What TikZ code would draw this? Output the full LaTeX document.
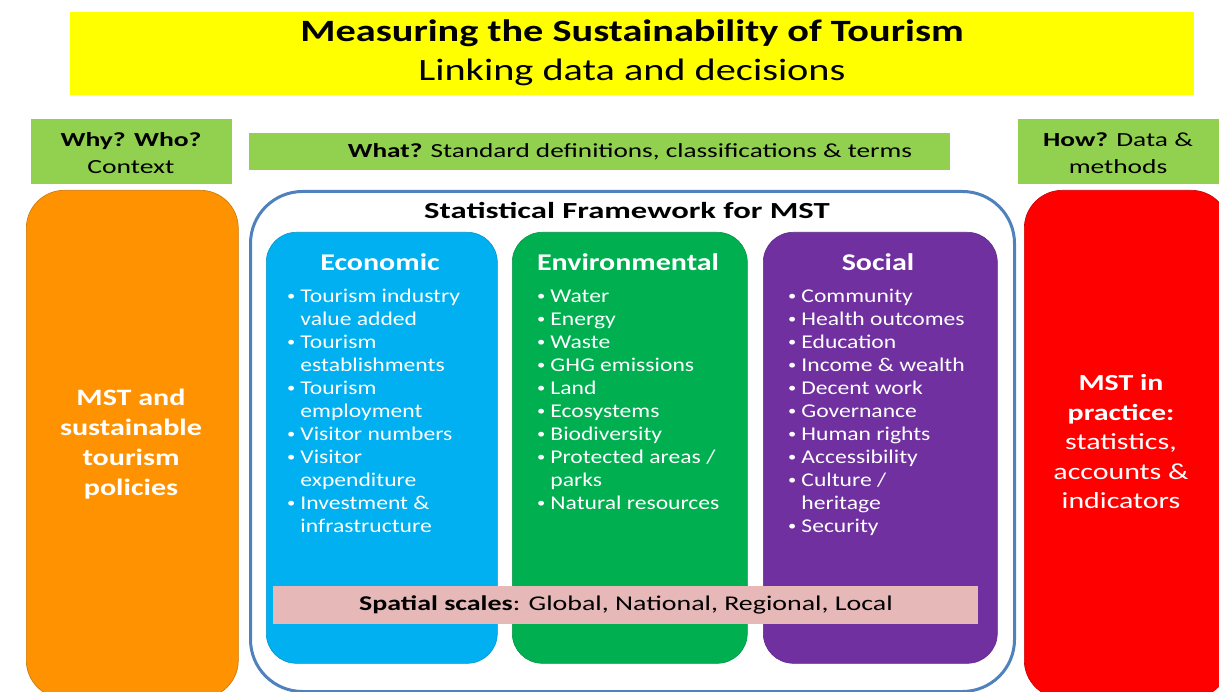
\documentclass[tikz,border=0pt]{standalone}
\usepackage{fontspec}
\setmainfont{Carlito}
\definecolor{ttlyellow}{HTML}{FFFF00}
\definecolor{lightgreen}{HTML}{92D050}
\definecolor{orangebox}{HTML}{FF9200}
\definecolor{redbox}{HTML}{FF0000}
\definecolor{econ}{HTML}{00B0F0}
\definecolor{envi}{HTML}{00B050}
\definecolor{soci}{HTML}{7030A0}
\definecolor{spat}{HTML}{E6B8B7}
\definecolor{frameblue}{HTML}{4F81BD}
\newcommand{\stretchby}[1]{\addfontfeature{FakeStretch=#1}}
\newcommand{\itemlist}[1]{{\fontsize{19.5}{23}\selectfont\stretchby{1.21}\begin{tabular}{@{}l@{\hspace{5pt}}l@{}}#1\end{tabular}}}
\newcommand{\bl}{\raisebox{1.5pt}{\scalebox{0.7}{\textbullet}}}
\tikzset{
  panel/.style={anchor=north west, inner sep=0pt, draw=none},
  greenbox/.style={panel, fill=lightgreen},
  sidebox/.style={panel, rounded corners=38pt, draw=#1!80!black, line width=0.6pt, fill=#1},
  colbox/.style={panel, rounded corners=30pt, draw=#1!85!black, line width=0.6pt, fill=#1},
  coltitle/.style={text=white, font=\bfseries\fontsize{24}{28}\selectfont\stretchby{1.25}},
  collist/.style={anchor=north west, inner sep=0pt, text=white}
}
\begin{document}
\begin{tikzpicture}[x=1pt,y=-1pt]
\useasboundingbox (0,0) rectangle (1219,692);
\clip (0,0) rectangle (1219,692);
\fill[white] (0,0) rectangle (1219,692);

% title banner
\node[panel, fill=ttlyellow, minimum width=1124pt, minimum height=83pt] (banner) at (70,12) {};
\node[font=\bfseries\fontsize{31}{36}\selectfont\stretchby{1.3}, inner sep=0pt] (title) at (632,33) {Measuring the Sustainability of Tourism};
\node[font=\fontsize{31}{36}\selectfont\stretchby{1.3}, inner sep=0pt] (subtitle) at (632,72) {Linking data and decisions};

% green header boxes
\node[greenbox, minimum width=201pt, minimum height=65pt] (why) at (31,119) {};
\node[font=\fontsize{20}{27}\selectfont\stretchby{1.38}, align=center, inner sep=0pt] (whytext) at (131,153) {\textbf{Why? Who?}\\Context};
\node[greenbox, minimum width=701pt, minimum height=37pt] (what) at (249,133) {};
\node[font=\fontsize{20}{24}\selectfont\stretchby{1.36}, inner sep=0pt] (whattext) at (630,152) {\textbf{What?} Standard definitions, classifications \& terms};
\node[greenbox, minimum width=201pt, minimum height=65pt] (how) at (1018,119) {};
\node[font=\fontsize{20}{27}\selectfont\stretchby{1.37}, align=center, inner sep=0pt] (howtext) at (1118,153) {\textbf{How?} Data \&\\methods};

% side boxes
\node[sidebox=orangebox, minimum width=212pt, minimum height=508pt] (policy) at (26,190) {};
\node[text=white, align=center, font=\bfseries\fontsize{23.5}{30}\selectfont\stretchby{1.28}, inner sep=0pt] (policytext) at (131,444) {MST and\\sustainable\\tourism\\policies};
\node[sidebox=redbox, minimum width=205pt, minimum height=508pt] (practice) at (1024,190) {};
\node[text=white, align=center, font=\fontsize{23}{29.5}\selectfont\stretchby{1.3}, inner sep=0pt] (practicetext) at (1121,442) {\textbf{MST in}\\\textbf{practice:}\\statistics,\\accounts \&\\indicators};

% framework
\node[panel, draw=frameblue, line width=3pt, rounded corners=52pt, fill=white, minimum width=764pt, minimum height=500pt] (framework) at (249,190) {};
\node[font=\bfseries\fontsize{23}{28}\selectfont\stretchby{1.42}, inner sep=0pt] (fwtitle) at (627,211) {Statistical Framework for MST};

\node[colbox=econ, minimum width=231pt, minimum height=431pt] (economic) at (266,232) {};
\node[colbox=envi, minimum width=235pt, minimum height=431pt] (environmental) at (512,232) {};
\node[colbox=soci, minimum width=234pt, minimum height=431pt] (social) at (763,232) {};

\node[coltitle] (ectitle) at (380,262) {Economic};
\node[coltitle] (entitle) at (628,262) {Environmental};
\node[coltitle] (sotitle) at (878,262) {Social};

\node[collist] (eclist) at (287,286) {\itemlist{
\bl & Tourism industry\\
    & value added\\
\bl & Tourism\\
    & establishments\\
\bl & Tourism\\
    & employment\\
\bl & Visitor numbers\\
\bl & Visitor\\
    & expenditure\\
\bl & Investment \&\\
    & infrastructure}};

\node[collist] (enlist) at (537,286) {\itemlist{
\bl & Water\\
\bl & Energy\\
\bl & Waste\\
\bl & GHG emissions\\
\bl & Land\\
\bl & Ecosystems\\
\bl & Biodiversity\\
\bl & Protected areas /\\
    & parks\\
\bl & Natural resources}};

\node[collist] (solist) at (788,286) {\itemlist{
\bl & Community\\
\bl & Health outcomes\\
\bl & Education\\
\bl & Income \& wealth\\
\bl & Decent work\\
\bl & Governance\\
\bl & Human rights\\
\bl & Accessibility\\
\bl & Culture /\\
    & heritage\\
\bl & Security}};

% spatial scales
\node[panel, fill=spat, minimum width=705pt, minimum height=38pt] (spatial) at (273,586) {};
\node[font=\fontsize{21}{25}\selectfont\stretchby{1.33}, inner sep=0pt] (spatialtext) at (626,605) {\textbf{Spatial scales}: Global, National, Regional, Local};
\end{tikzpicture}
\end{document}
